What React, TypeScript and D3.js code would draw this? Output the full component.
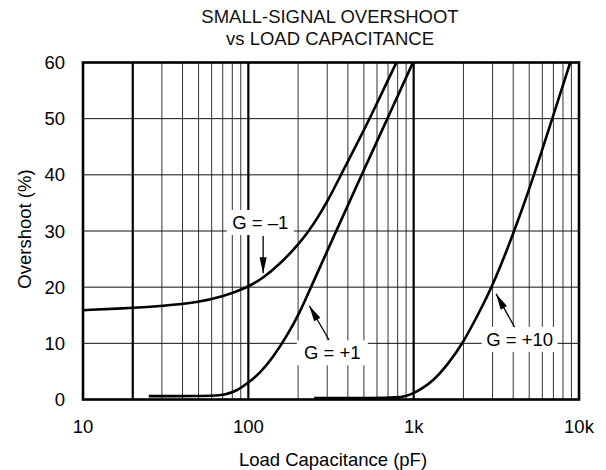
import React from 'react';
import * as d3 from 'd3';

const W = 606;
const H = 470;
const FONT = '"Liberation Sans", Arial, Helvetica, sans-serif';

// titles and axis text
const titleLines = ['SMALL-SIGNAL OVERSHOOT', 'vs LOAD CAPACITANCE'];
const xLabel = 'Load Capacitance (pF)';
const yLabel = 'Overshoot (%)';

// ticks
const xTickValues = [10, 100, 1000, 10000];
const xTickLabels = ['10', '100', '1k', '10k'];
const yTickValues = [0, 10, 20, 30, 40, 50, 60];
const thickGridValues = [20, 100, 1000];

// G = -1 (pF, %)
const gM1Cap = [10, 20, 30, 50, 70, 100, 122, 150, 205, 250, 307, 363, 450, 542, 786];
const gM1Pct = [15.9, 16.3, 16.65, 17.3, 18.3, 20, 21.6, 23.7, 27.8, 31.3, 35.7, 40, 45.3, 50, 60];

// G = +1
const gP1Cap = [25, 50, 65, 72, 85, 100, 117, 141, 171, 205, 240, 340, 485, 693, 990];
const gP1Pct = [0.6, 0.6, 0.7, 0.85, 1.5, 3.0, 4.6, 7.5, 11.3, 15.5, 20.1, 30, 40, 50, 60];

// G = +10
const gP10Cap = [250, 600, 785, 900, 1000, 1130, 1309, 1605, 1986, 2456, 2985, 4074, 5360, 6890, 8850];
const gP10Pct = [0.25, 0.25, 0.35, 0.6, 1.1, 2.0, 3.3, 6.2, 10, 15.2, 20, 30, 40, 50, 60];

// annotations, in data units: label centre, arrow tail, arrow tip
const annLabels = ['G = \u20131', 'G = +1', 'G = +10'];
const annLabelCap = [118, 322, 4372];
const annLabelPct = [31.6, 8.4, 10.8];
const annTailCap = [122.9, 307.7, 4077];
const annTailPct = [29.1, 10.6, 12.9];
const annTipCap = [122.9, 233.7, 3151];
const annTipPct = [22.5, 16.7, 18.8];
const annBoxW = [67, 71, 76];

export default function App() {
  const x = d3.scaleLog().domain([10, 10000]).range([83, 579]);
  const y = d3.scaleLinear().domain([0, 60]).range([399.5, 62.5]);

  const line = d3
    .line<[number, number]>()
    .x((d) => x(d[0]))
    .y((d) => y(d[1]))
    .curve(d3.curveBasis);

  const series = [
    d3.zip(gM1Cap, gM1Pct) as [number, number][],
    d3.zip(gP1Cap, gP1Pct) as [number, number][],
    d3.zip(gP10Cap, gP10Pct) as [number, number][],
  ];

  const vGrid = x.ticks().filter((v) => v > 10 && v < 10000);
  const hGrid = yTickValues.filter((v) => v > 0 && v < 60);

  const arrowHead = (x0: number, y0: number, x1: number, y1: number) => {
    const dx = x1 - x0;
    const dy = y1 - y0;
    const len = Math.sqrt(dx * dx + dy * dy);
    const ux = dx / len;
    const uy = dy / len;
    const hl = 16;
    const hw = 3.6;
    const bx = x1 - ux * hl;
    const by = y1 - uy * hl;
    return [
      [x1, y1],
      [bx - uy * hw, by + ux * hw],
      [bx + uy * hw, by - ux * hw],
    ]
      .map((p) => p.join(','))
      .join(' ');
  };

  return (
    <svg
      width={W}
      height={H}
      style={{ position: 'absolute', left: 0, top: 0, background: '#fff' }}
      fontFamily={FONT}
    >
      <rect width={W} height={H} fill="#fff" />

      {titleLines.map((t, i) => (
        <text key={t} x={330} y={23 + i * 22} textAnchor="middle" fontSize={18.5} fill="#111">
          {t}
        </text>
      ))}

      {/* grid */}
      {vGrid.map((v) => {
        const thick = thickGridValues.includes(v);
        return (
          <line
            key={'v' + v}
            x1={x(v)}
            x2={x(v)}
            y1={y(0)}
            y2={y(60)}
            stroke={thick ? '#000' : '#333'}
            strokeWidth={thick ? 2.2 : 1}
          />
        );
      })}
      {hGrid.map((v) => (
        <line key={'h' + v} x1={x(10)} x2={x(10000)} y1={y(v)} y2={y(v)} stroke="#111" strokeWidth={1} />
      ))}

      {/* curves */}
      {series.map((s, i) => (
        <path key={i} d={line(s) || ''} fill="none" stroke="#000" strokeWidth={2.6} strokeLinejoin="round" />
      ))}

      {/* frame */}
      <rect
        x={x(10)}
        y={y(60)}
        width={x(10000) - x(10)}
        height={y(0) - y(60)}
        fill="none"
        stroke="#000"
        strokeWidth={2.6}
      />

      {/* annotations */}
      {annLabels.map((lab, i) => {
        const lx = x(annLabelCap[i]);
        const ly = y(annLabelPct[i]);
        const tx = x(annTailCap[i]);
        const ty = y(annTailPct[i]);
        const px = x(annTipCap[i]);
        const py = y(annTipPct[i]);
        return (
          <g key={lab}>
            <rect x={lx - annBoxW[i] / 2} y={ly - 12} width={annBoxW[i]} height={25} fill="#fff" />
            <text x={lx} y={ly} dy="0.36em" textAnchor="middle" fontSize={18.5} fill="#000">
              {lab}
            </text>
            <line x1={tx} y1={ty} x2={px} y2={py} stroke="#000" strokeWidth={1.3} />
            <polygon points={arrowHead(tx, ty, px, py)} fill="#000" />
          </g>
        );
      })}

      {/* y tick labels */}
      {yTickValues.map((v) => (
        <text key={'yt' + v} x={65} y={y(v)} dy="0.36em" textAnchor="end" fontSize={18.5} fill="#000">
          {v}
        </text>
      ))}

      {/* x tick labels */}
      {xTickValues.map((v, i) => (
        <text key={'xt' + v} x={x(v)} y={433} textAnchor="middle" fontSize={18.5} fill="#000">
          {xTickLabels[i]}
        </text>
      ))}

      <text x={333} y={466} textAnchor="middle" fontSize={18.5} fill="#000">
        {xLabel}
      </text>
      <text transform="translate(31,229) rotate(-90)" textAnchor="middle" fontSize={18.5} fill="#000">
        {yLabel}
      </text>
    </svg>
  );
}
